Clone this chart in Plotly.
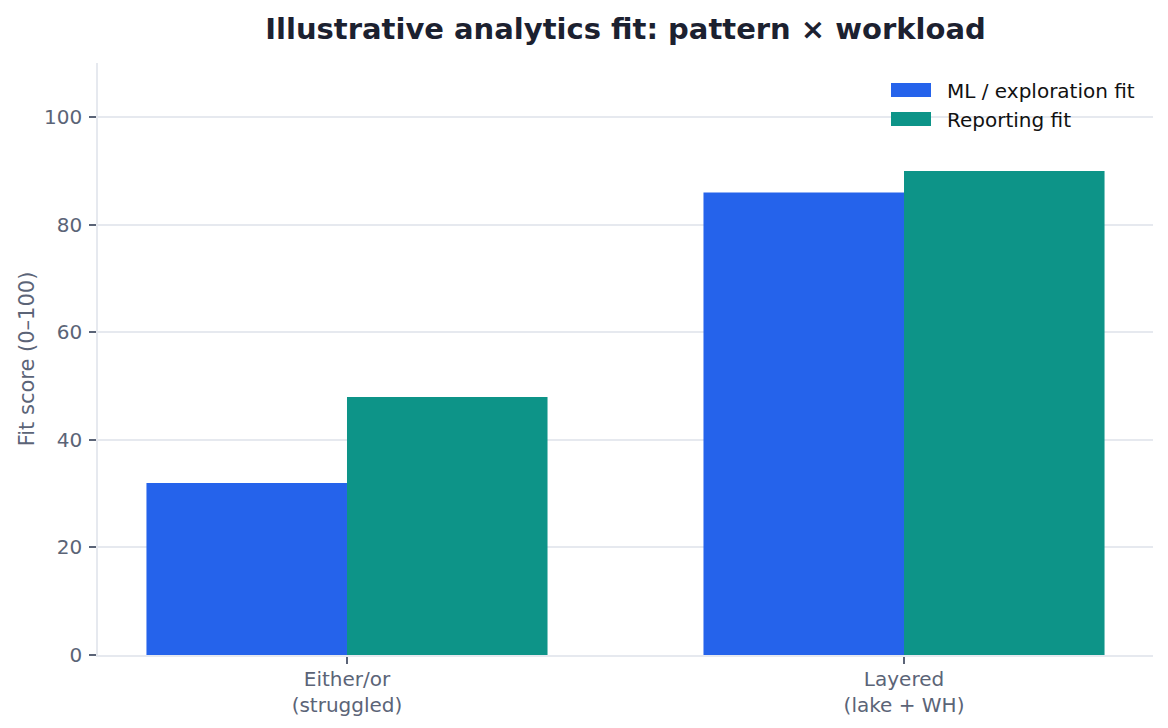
import plotly.graph_objects as go

categories = ["Either/or<br>(struggled)", "Layered<br>(lake + WH)"]
series_names = ["ML / exploration fit", "Reporting fit"]
ml_fit = [32, 86]
reporting_fit = [48, 90]
y_ticks = [0, 20, 40, 60, 80, 100]

colors = ["#2563eb", "#0d9488"]
text_grey = "#5b6477"
grid_col = "#e6e9ef"
font_family = "DejaVu Sans"

fig = go.Figure()
for name, vals, col in zip(series_names, [ml_fit, reporting_fit], colors):
    fig.add_trace(go.Bar(x=categories, y=vals, name=name, marker_color=col,
                         marker_line_width=0, showlegend=False))

W, H = 1168, 728
L, R, T, B = 98, 15, 63, 73
pw, ph = W - L - R, H - T - B

def px_x(p):
    return (p - L) / pw

def px_y(p):
    return (H - B - p) / ph

fig.update_layout(
    width=W, height=H,
    margin=dict(l=L, r=R, t=T, b=B, autoexpand=False),
    paper_bgcolor="white", plot_bgcolor="white",
    font=dict(family=font_family, size=20, color=text_grey),
    barmode="group", bargap=0.28, bargroupgap=0,
    title=dict(text="<b>Illustrative analytics fit: pattern × workload</b>",
               x=0.5, xref="paper", xanchor="center",
               y=1 - 29 / H, yref="container", yanchor="middle",
               font=dict(family=font_family, size=29, color="#1c2130")),
    xaxis=dict(range=[-0.447, 1.447], showgrid=False, showline=True,
               automargin=False,
               linecolor=grid_col, linewidth=1.5, ticks="outside", ticklen=7,
               tickwidth=1.5, tickcolor=text_grey, ticklabelstandoff=-2,
               tickfont=dict(size=20, color=text_grey), zeroline=False),
    yaxis=dict(range=[0, 110.1], tickvals=y_ticks, showgrid=True,
               automargin=False,
               gridcolor=grid_col, gridwidth=1.5, showline=True,
               linecolor=grid_col, linewidth=1.5, ticks="outside", ticklen=7,
               tickwidth=1.5, tickcolor=text_grey, zeroline=False,
               ticklabelstandoff=3,
               tickfont=dict(size=20, color=text_grey),
               title=dict(text="Fit score (0–100)", standoff=4,
                          font=dict(size=21, color=text_grey))),
)

# custom legend (wide swatches, like the reference)
swatch_rows = [(83, 97, 91), (112, 126, 120)]
for (y0, y1, yc), name, col in zip(swatch_rows, series_names, colors):
    fig.add_shape(type="rect", xref="paper", yref="paper",
                  x0=px_x(891), x1=px_x(931), y0=px_y(y1), y1=px_y(y0),
                  fillcolor=col, line_width=0)
    fig.add_annotation(xref="paper", yref="paper", x=px_x(945), y=px_y(yc),
                       xanchor="left", yanchor="middle", showarrow=False,
                       text=name, font=dict(family=font_family, size=20, color="#111111"))

fig.write_html("out.html")
